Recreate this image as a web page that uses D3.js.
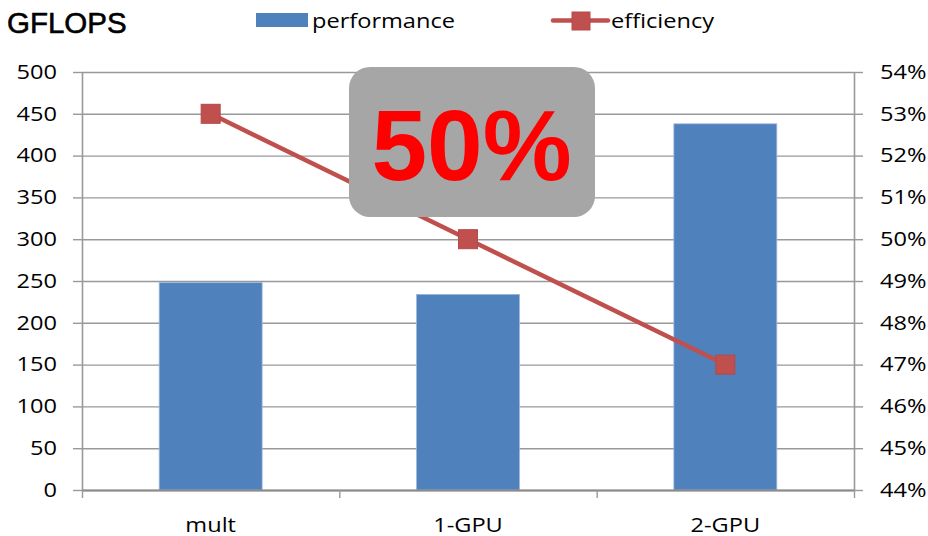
<!DOCTYPE html>
<html>
<head>
<meta charset="utf-8">
<script src="https://cdn.jsdelivr.net/npm/d3@7"></script>
<style>
  html, body { margin: 0; padding: 0; background: #fff; }
  svg { display: block; }
</style>
</head>
<body>
<svg id="chart" width="928" height="536"></svg>
<script>
// GPU performance (GFLOPS, bars) and parallel efficiency (line)
const categories = ["mult", "1-GPU", "2-GPU"];
const performance = [248, 234, 438];
const efficiency = [0.53, 0.50, 0.47];
const leftTicks = [0, 50, 100, 150, 200, 250, 300, 350, 400, 450, 500];
const rightTicks = [0.44, 0.45, 0.46, 0.47, 0.48, 0.49, 0.50, 0.51, 0.52, 0.53, 0.54];
const seriesNames = ["performance", "efficiency"];
const titleText = "GFLOPS";
const calloutText = "50%";

const svg = d3.select("#chart");
const margin = { left: 82, right: 74, top: 72, bottom: 46 };
const W = 928, H = 536;
const x0 = margin.left, x1 = W - margin.right;
const y0 = H - margin.bottom, y1 = margin.top;

const labelFont = "'Open Sans', 'DejaVu Sans', sans-serif";
const labelSize = 19.5;
const stretch = 1.21;
const gridColor = "#999999";
const barColor = "#4F81BD";
const lineColor = "#C0504D";

const x = d3.scaleBand().domain(categories).range([x0, x1]).paddingInner(0.6).paddingOuter(0.3);
const xEdges = d3.scaleLinear().domain([0, categories.length]).range([x0, x1]);
const yL = d3.scaleLinear().domain([0, 500]).range([y0, y1]);
const yR = d3.scaleLinear().domain([0.44, 0.54]).range([y0, y1]);

// horizontal gridlines
svg.append("g")
  .attr("transform", `translate(${x0},0)`)
  .call(d3.axisLeft(yL).tickValues(leftTicks).tickSize(-(x1 - x0)).tickFormat(""))
  .call(g => g.select(".domain").remove())
  .call(g => g.selectAll("line").attr("stroke", gridColor).attr("stroke-width", 1.4));

// bars
svg.append("g").selectAll("rect")
  .data(performance)
  .join("rect")
  .attr("x", (d, i) => x(categories[i]))
  .attr("y", d => yL(d))
  .attr("width", x.bandwidth())
  .attr("height", d => yL(0) - yL(d))
  .attr("fill", barColor)
  .attr("stroke", "#9DB6DA")
  .attr("stroke-width", 0.8);

// stretched label helper: scale text horizontally around its anchor
function stretchText(sel) {
  sel.each(function () {
    const t = d3.select(this);
    const tx = +t.attr("x") || 0;
    t.attr("x", tx / stretch).attr("transform", `scale(${stretch},1)`);
  });
}

// left axis
svg.append("g")
  .attr("transform", `translate(${x0},0)`)
  .call(d3.axisLeft(yL).tickValues(leftTicks).tickSize(9).tickPadding(16).tickSizeOuter(0))
  .call(g => g.select(".domain").attr("stroke", gridColor).attr("stroke-width", 1.6))
  .call(g => g.selectAll(".tick line").attr("stroke", gridColor).attr("stroke-width", 1.4))
  .call(g => g.selectAll(".tick text")
    .attr("font-family", labelFont).attr("font-size", labelSize).attr("fill", "#000")
    .call(stretchText));

// right axis
svg.append("g")
  .attr("transform", `translate(${x1},0)`)
  .call(d3.axisRight(yR).tickValues(rightTicks).tickSize(9).tickPadding(17).tickSizeOuter(0)
    .tickFormat(d3.format(".0%")))
  .call(g => g.select(".domain").attr("stroke", gridColor).attr("stroke-width", 1.6))
  .call(g => g.selectAll(".tick line").attr("stroke", gridColor).attr("stroke-width", 1.4))
  .call(g => g.selectAll(".tick text")
    .attr("font-family", labelFont).attr("font-size", labelSize).attr("fill", "#000")
    .call(stretchText));

// bottom axis: boundary ticks
svg.append("g")
  .attr("transform", `translate(0,${y0})`)
  .call(d3.axisBottom(xEdges).tickValues(d3.range(categories.length + 1)).tickSize(8).tickSizeOuter(0).tickFormat(""))
  .call(g => g.select(".domain").attr("stroke", "#8a8a8a").attr("stroke-width", 1.8))
  .call(g => g.selectAll(".tick line").attr("stroke", gridColor).attr("stroke-width", 1.4));

// bottom axis: category labels
svg.append("g")
  .attr("transform", `translate(0,${y0})`)
  .call(d3.axisBottom(x).tickSize(0).tickPadding(28))
  .call(g => g.select(".domain").remove())
  .call(g => g.selectAll(".tick text")
    .attr("font-family", labelFont).attr("font-size", labelSize).attr("fill", "#000")
    .call(stretchText));

// efficiency line
const line = d3.line()
  .x((d, i) => x(categories[i]) + x.bandwidth() / 2)
  .y(d => yR(d));
svg.append("path")
  .datum(efficiency)
  .attr("d", line)
  .attr("fill", "none")
  .attr("stroke", lineColor)
  .attr("stroke-width", 4.5);

const ms = 19;
svg.append("g").selectAll("rect")
  .data(efficiency)
  .join("rect")
  .attr("x", (d, i) => x(categories[i]) + x.bandwidth() / 2 - ms / 2)
  .attr("y", d => yR(d) - ms / 2)
  .attr("width", ms)
  .attr("height", ms)
  .attr("fill", lineColor)
  .attr("stroke", "#B5484A")
  .attr("stroke-width", 1);

// callout box
const box = { x: 349, y: 67, w: 246, h: 150 };
svg.append("rect")
  .attr("x", box.x).attr("y", box.y)
  .attr("width", box.w).attr("height", box.h)
  .attr("rx", 21).attr("ry", 21)
  .attr("fill", "#A6A6A6");
svg.append("text")
  .attr("x", box.x + box.w / 2 - 0.5)
  .attr("y", 180)
  .attr("text-anchor", "middle")
  .attr("font-family", "'Liberation Sans', Arial, sans-serif")
  .attr("font-weight", "bold")
  .attr("font-size", 100)
  .attr("fill", "#FF0000")
  .text(calloutText);

// title
svg.append("text")
  .attr("x", 7)
  .attr("y", 33)
  .attr("font-family", "'Liberation Sans', Arial, sans-serif")
  .attr("font-size", 29.5)
  .attr("fill", "#000")
  .attr("stroke", "#000")
  .attr("stroke-width", 0.6)
  .text(titleText);

// legend
const legend = svg.append("g");
legend.append("rect")
  .attr("x", 256).attr("y", 13).attr("width", 52).attr("height", 14)
  .attr("fill", barColor);
legend.append("text")
  .attr("x", 312).attr("y", 28)
  .attr("font-family", labelFont).attr("font-size", labelSize).attr("fill", "#000")
  .text(seriesNames[0])
  .call(stretchText);
legend.append("line")
  .attr("x1", 553).attr("x2", 608).attr("y1", 20.5).attr("y2", 20.5)
  .attr("stroke", lineColor).attr("stroke-width", 4.5).attr("stroke-linecap", "round");
legend.append("rect")
  .attr("x", 572).attr("y", 12).attr("width", 18).attr("height", 18)
  .attr("fill", lineColor).attr("stroke", "#B5484A").attr("stroke-width", 1);
legend.append("text")
  .attr("x", 611).attr("y", 28)
  .attr("font-family", labelFont).attr("font-size", labelSize).attr("fill", "#000")
  .text(seriesNames[1])
  .call(stretchText);
</script>
</body>
</html>
